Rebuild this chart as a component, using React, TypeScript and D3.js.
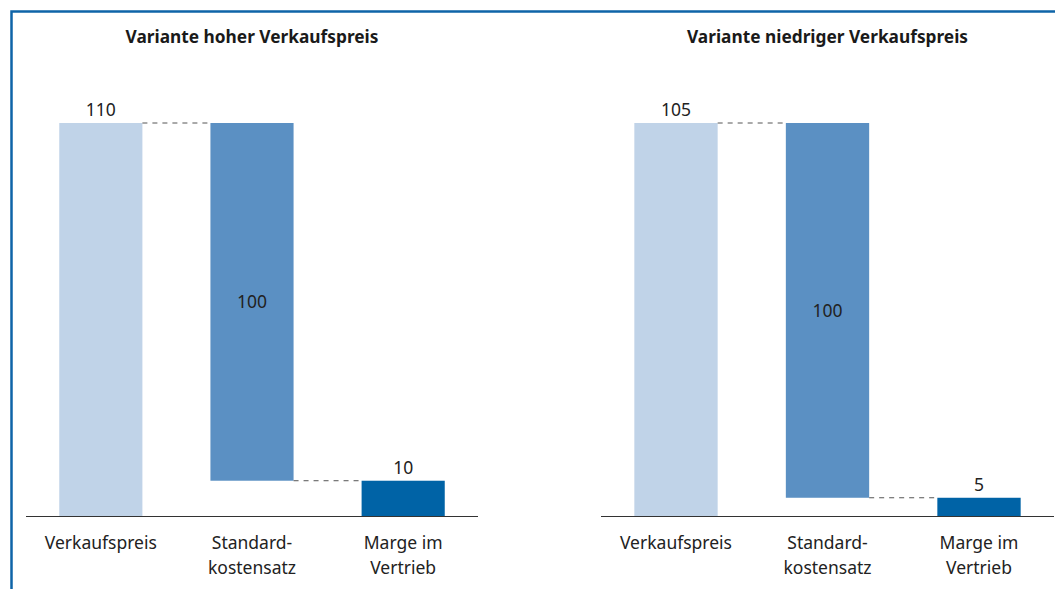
import React from 'react';
import * as d3 from 'd3';

const categories = [['Verkaufspreis'], ['Standard-', 'kostensatz'], ['Marge im', 'Vertrieb']];
const panelTitles = ['Variante hoher Verkaufspreis', 'Variante niedriger Verkaufspreis'];
const highValues = [110, 100, 10];
const lowValues = [105, 100, 5];
const panelValues = [highValues, lowValues];

const W = 1055;
const H = 589;
const FONT = '"Noto Sans", sans-serif';
const colors = ['#c0d3e8', '#5b90c3', '#0063a6'];
const panelRanges: [number, number][] = [
  [26, 478],
  [601, 1054],
];
const baseY = 516.5;
const topY = 123;

interface Step {
  name: string;
  lines: string[];
  y0: number;
  y1: number;
  value: number;
}

function buildSteps(values: number[]): Step[] {
  // waterfall: total, minus cost, remaining margin
  const [price, cost, margin] = values;
  return [
    { name: 'a', lines: categories[0], y0: 0, y1: price, value: price },
    { name: 'b', lines: categories[1], y0: price - cost, y1: price, value: cost },
    { name: 'c', lines: categories[2], y0: 0, y1: margin, value: margin },
  ];
}

const Panel: React.FC<{ title: string; values: number[]; range: [number, number] }> = ({ title, values, range }) => {
  const steps = buildSteps(values);
  const x = d3
    .scaleBand<string>()
    .domain(steps.map((s) => s.name))
    .range(range)
    .paddingInner(0.45)
    .paddingOuter(0.22);
  const y = d3.scaleLinear().domain([0, d3.max(values) as number]).range([baseY, topY]);
  const bw = x.bandwidth();
  const cx = (range[0] + range[1]) / 2;

  return (
    <g>
      <text x={cx} y={43} textAnchor="middle" fontFamily={FONT} fontWeight="bold" fontSize={17.3} fill="#1a1a1a">
        {title}
      </text>
      {steps.map((s, i) => (
        <rect
          key={s.name}
          x={x(s.name)}
          y={y(s.y1)}
          width={bw}
          height={y(s.y0) - y(s.y1)}
          fill={colors[i]}
        />
      ))}
      {/* connectors */}
      <line
        x1={(x(steps[0].name) as number) + bw}
        x2={x(steps[1].name)}
        y1={y(steps[0].y1)}
        y2={y(steps[0].y1)}
        stroke="#555"
        strokeDasharray="5,5"
        strokeWidth={1}
      />
      <line
        x1={(x(steps[1].name) as number) + bw}
        x2={x(steps[2].name)}
        y1={y(steps[1].y0)}
        y2={y(steps[1].y0)}
        stroke="#555"
        strokeDasharray="5,5"
        strokeWidth={1}
      />
      <line x1={range[0]} x2={range[1]} y1={baseY} y2={baseY} stroke="#333" strokeWidth={1.2} />
      {steps.map((s, i) => {
        const mx = (x(s.name) as number) + bw / 2;
        const inside = i === 1;
        const ly = inside ? (y(s.y0) + y(s.y1)) / 2 : y(s.y1) - 7;
        return (
          <text
            key={'v' + s.name}
            x={mx}
            y={ly}
            dy={inside ? '0.35em' : 0}
            textAnchor="middle"
            fontFamily={FONT}
            fontSize={17.5}
            fill="#222"
          >
            {s.value}
          </text>
        );
      })}
      {steps.map((s) => {
        const mx = (x(s.name) as number) + bw / 2;
        return (
          <text key={'c' + s.name} textAnchor="middle" fontFamily={FONT} fontSize={17.5} fill="#222">
            {s.lines.map((l, j) => (
              <tspan key={j} x={mx} y={549 + j * 25}>
                {l}
              </tspan>
            ))}
          </text>
        );
      })}
    </g>
  );
};

export default function App() {
  return (
    <svg width={W} height={H} style={{ position: 'absolute', left: 0, top: 0, display: 'block' }}>
      <rect width={W} height={H} fill="#fff" />
      <path d={`M11.5,${H} V11.5 H${W}`} fill="none" stroke="#0e64a8" strokeWidth={2.5} />
      {panelTitles.map((t, i) => (
        <Panel key={t} title={t} values={panelValues[i]} range={panelRanges[i]} />
      ))}
    </svg>
  );
}
